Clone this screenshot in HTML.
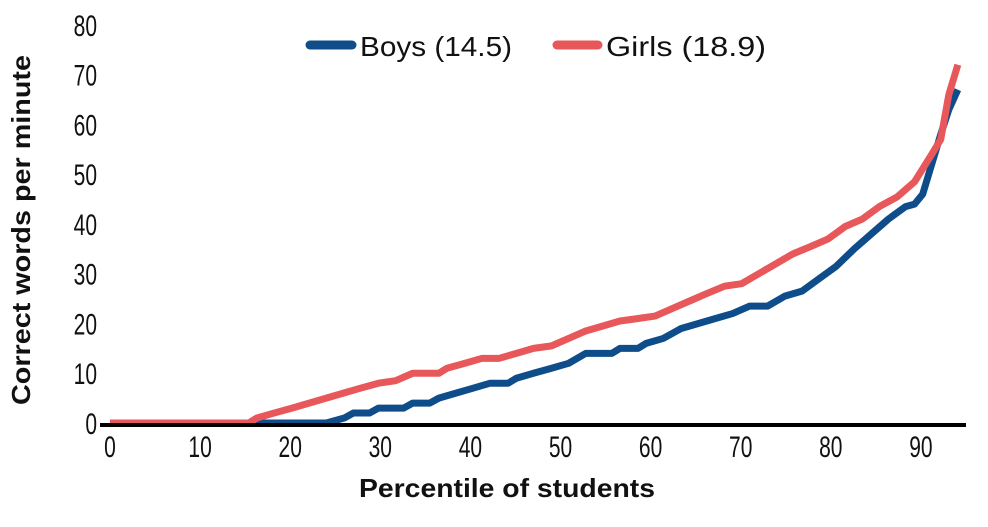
<!DOCTYPE html>
<html><head><meta charset="utf-8"><style>
html,body{margin:0;padding:0;background:#fff;}
svg text{font-family:"Liberation Sans",sans-serif;fill:#111;}
</style></head><body>
<svg width="988" height="522" viewBox="0 0 988 522">
<g id="ticks"></g>
<g id="lines"></g>
<line x1="100" y1="425" x2="966" y2="425" stroke="#000" stroke-width="4"/>
<text x="30" y="230" transform="rotate(-90 30 230)" text-anchor="middle" font-size="26" font-weight="bold" textLength="350" lengthAdjust="spacingAndGlyphs">Correct words per minute</text>
<text x="507" y="497" text-anchor="middle" font-size="26" font-weight="bold" textLength="296" lengthAdjust="spacingAndGlyphs">Percentile of students</text>
<g>
<line x1="310" y1="45" x2="352" y2="45" stroke="#0f4d8a" stroke-width="9" stroke-linecap="round"/>
<text x="360" y="56" font-size="28" textLength="152" lengthAdjust="spacingAndGlyphs">Boys (14.5)</text>
<line x1="557" y1="45" x2="598" y2="45" stroke="#e8575a" stroke-width="9" stroke-linecap="round"/>
<text x="606" y="56" font-size="28" textLength="160" lengthAdjust="spacingAndGlyphs">Girls (18.9)</text>
</g>
</svg>
<script>
const xTicks=[0,10,20,30,40,50,60,70,80,90];
const yTicks=[0,10,20,30,40,50,60,70,80];
const boysX=[0,24,25,26,27,28.8,29.8,32.6,33.6,35.5,36.5,38.4,40.3,42.2,44.2,45.1,47,49,50.9,52.8,55.7,56.6,58.6,59.5,61.4,63.4,65.3,67.2,69.1,71,73,74.9,76.8,78.7,80.6,82.6,84.5,86.4,88.3,89.3,90.2,91.2,92.2,93.1,94.1];
const boysY=[0,0,0.5,1,2,2,3,3,4,4,5,6,7,8,8,9,10,11,12,14,14,15,15,16,17,19,20,21,22,23.5,23.5,25.5,26.5,29,31.5,35,38,41,43.5,44,46,52,58,63,67];
const girlsX=[0,15.4,16.3,18.2,20.2,22.1,24,25.9,27.8,29.8,31.7,33.6,36.5,37.4,39.4,41.3,43.2,45.1,47,49,50.9,52.8,54.7,56.6,58.6,60.5,62.4,64.3,66.2,68.2,70.1,72,73.9,75.8,77.8,79.7,81.6,83.5,85.4,87.4,89.3,91.2,92.2,93.1,94.1];
const girlsY=[0,0,1,2,3,4,5,6,7,8,8.5,10,10,11,12,13,13,14,15,15.5,17,18.5,19.5,20.5,21,21.5,23,24.5,26,27.5,28,30,32,34,35.5,37,39.5,41,43.5,45.5,48.5,54,57,66,72];
const sx=v=>110+v*9.01;
const sy=v=>423-v*4.975;
const NS='http://www.w3.org/2000/svg';
const tg=document.getElementById('ticks');
xTicks.forEach(t=>{
  const e=document.createElementNS(NS,'text');
  
  
  e.setAttribute('x',sx(t));e.setAttribute('y',457);
  e.setAttribute('text-anchor','middle');e.setAttribute('font-size','30');
  e.setAttribute('transform',`translate(${sx(t)*0.3},0) scale(0.7,1)`);
  e.textContent=t;tg.appendChild(e);
});
yTicks.forEach(t=>{
  const e=document.createElementNS(NS,'text');
  
  
  e.setAttribute('x',97);e.setAttribute('y',sy(t)+11);
  e.setAttribute('text-anchor','end');e.setAttribute('font-size','30');
  e.setAttribute('transform',`translate(${97*0.3},0) scale(0.7,1)`);
  e.textContent=t;tg.appendChild(e);
});
const lg=document.getElementById('lines');
function draw(xs,ys,color,name){
  const p=document.createElementNS(NS,'polyline');
  
  
  p.setAttribute('points',xs.map((x,i)=>sx(x)+','+sy(ys[i])).join(' '));
  p.setAttribute('fill','none');p.setAttribute('stroke',color);
  p.setAttribute('stroke-width','7');p.setAttribute('stroke-linejoin','round');
  lg.appendChild(p);
}
draw(boysX,boysY,'#0f4d8a','boys-line');
draw(girlsX,girlsY,'#e8575a','girls-line');
</script>
</body></html>
